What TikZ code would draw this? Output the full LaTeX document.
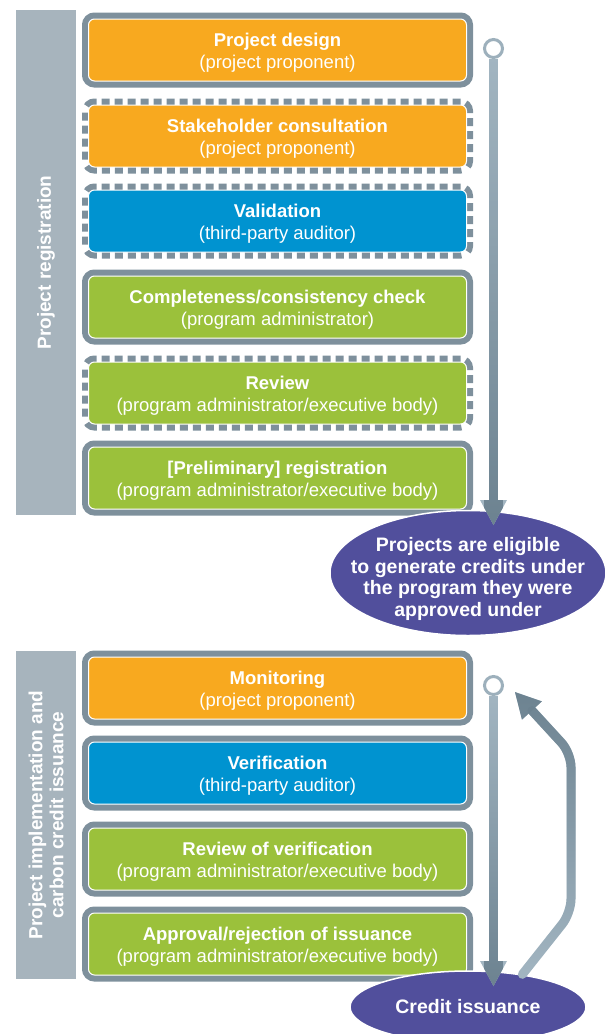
\documentclass[tikz,border=0pt]{standalone}
\usepackage{fontspec}
\setmainfont{Liberation Sans}
\usetikzlibrary{arrows.meta, shapes.geometric, fadings}
\definecolor{design}{HTML}{F8A91F}
\definecolor{audit}{HTML}{0093D0}
\definecolor{admin}{HTML}{9BC13B}
\definecolor{frame}{HTML}{7E909C}
\definecolor{bar}{HTML}{A7B4BD}
\definecolor{goal}{HTML}{514F9C}
\definecolor{ring}{HTML}{9DB0BC}
\definecolor{flowlight}{HTML}{A3B6C2}
\definecolor{flowdark}{HTML}{6C8290}
\tikzfading[name=fadesouth, top color=transparent!100, bottom color=transparent!0]
\tikzfading[name=fadenorth, top color=transparent!0, bottom color=transparent!100]

\begin{document}
\begin{tikzpicture}[x=1pt, y=1pt,
  stage/.style={rectangle, rounded corners=6pt, minimum width=378pt,
                minimum height=62pt, align=center, text=white, draw=white,
                line width=1pt, font=\fontsize{18.5}{22}\selectfont,
                text height=40pt},
  fixed/.style={stage, preaction={draw=frame, line width=13pt}},
  optional/.style={stage, preaction={draw=frame, line width=13pt,
                   dash pattern=on 8pt off 5pt}},
  phase/.style={rectangle, fill=bar, text=white, rotate=90, align=center,
                inner sep=0pt, minimum height=60pt,
                font=\bfseries\fontsize{19}{21}\selectfont},
  goalnode/.style={ellipse, fill=goal, draw=white, line width=1.5pt,
                   text=white, align=center, inner xsep=-20pt, inner ysep=0pt,
                   font=\bfseries\fontsize{19.5}{21.5}\selectfont},
  ringnode/.style={circle, draw=ring, fill=white, line width=3pt,
                   minimum size=18pt, inner sep=0pt},
  flowdown/.style={draw=flowlight, line width=9pt,
                   -{Triangle[length=25pt, width=27pt, line width=0pt]},
                   postaction={draw=flowdark, path fading=fadesouth}},
  flowback/.style={draw=flowlight, line width=9pt, line cap=round,
                   rounded corners=14pt,
                   -{Triangle[length=25pt, width=27pt, line width=0pt]},
                   postaction={draw=flowdark, path fading=fadenorth}}
]
  \useasboundingbox (0,0) rectangle (612,-1034);

  \node[phase, minimum width=505pt] (reg) at (46,-262.5) {Project registration};
  \node[phase, minimum width=328pt] (imp) at (46,-815)
        {Project implementation and\\carbon credit issuance};

  \node[fixed, fill=design]    (pd)  at (277.5,-50)  {\textbf{Project design}\\(project proponent)};
  \node[optional, fill=design] (sc)  at (277.5,-136) {\textbf{Stakeholder consultation}\\(project proponent)};
  \node[optional, fill=audit]  (val) at (277.5,-221) {\textbf{Validation}\\(third-party auditor)};
  \node[fixed, fill=admin]     (cc)  at (277.5,-307) {\textbf{Completeness/consistency check}\\(program administrator)};
  \node[optional, fill=admin]  (rev) at (277.5,-393) {\textbf{Review}\\(program administrator/executive body)};
  \node[fixed, fill=admin]     (pr)  at (277.5,-478) {\textbf{[Preliminary] registration}\\(program administrator/executive body)};

  \node[fixed, fill=design]    (mon) at (277.5,-688) {\textbf{Monitoring}\\(project proponent)};
  \node[fixed, fill=audit]     (ver) at (277.5,-773) {\textbf{Verification}\\(third-party auditor)};
  \node[fixed, fill=admin]     (rov) at (277.5,-859) {\textbf{Review of verification}\\(program administrator/executive body)};
  \node[fixed, fill=admin]     (app) at (277.5,-944) {\textbf{Approval/rejection of issuance}\\(program administrator/executive body)};

  \node[goalnode, minimum width=276pt, minimum height=125pt,
        text height=91pt, inner ysep=-6pt] (elig) at (468,-573)
        {Projects are eligible\\to generate credits under\\the program they were\\approved under};
  \node[goalnode, minimum width=236pt, minimum height=72pt] (iss) at (468,-1007)
        {Credit issuance};

  \node[ringnode] (top) at (493.5,-48.5) {};
  \node[ringnode] (bot) at (493.5,-685.5) {};
  \coordinate (topend) at (493.5,-525);
  \coordinate (botend) at (493.5,-986);
  \coordinate (b1) at (571,-913);
  \coordinate (b2) at (571,-753);
  \coordinate (backend) at (515,-692);

  \draw[flowdown] (top) -- (topend);
  \draw[flowdown] (bot) -- (botend);
  \draw[flowback] (iss.31) -- (b1) -- (b2) -- (backend);
\end{tikzpicture}
\end{document}
